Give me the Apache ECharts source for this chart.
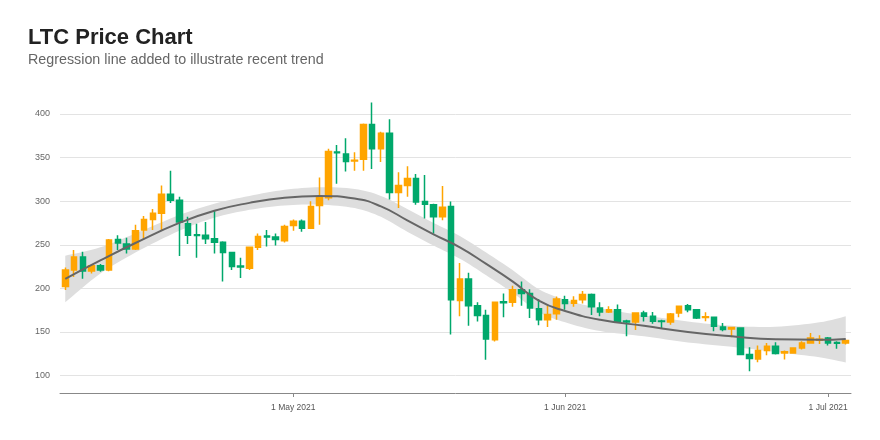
<!DOCTYPE html>
<html>
<head>
<meta charset="utf-8">
<script src="https://cdn.jsdelivr.net/npm/echarts@6/dist/echarts.min.js"></script>
<style>
  html, body { margin: 0; padding: 0; background: #fff; }
  #chart { width: 880px; height: 440px; }
</style>
</head>
<body>
<div id="chart"></div>
<script>
// daily LTC candles from 5 Apr 2021, [open, close, low, high]
var firstDay = '2021-04-05';
var candles = [
    [202, 221, 198, 224], [221, 236, 213, 244], [236, 220, 211, 242], [220, 226, 217, 227],
    [226, 221, 219, 228], [221, 255.5, 219.5, 256.5], [256, 252, 244, 261], [251, 245, 240, 258],
    [245, 266, 244, 273], [267, 279, 256, 283], [279, 286, 267, 291], [286, 308, 267, 318],
    [308, 301, 298, 335], [301, 276, 237, 305], [274, 261, 251, 282], [261.5, 260.5, 235, 274],
    [261, 257, 251, 276], [257, 253, 240, 289], [253, 241, 208, 254], [241, 225, 221, 242],
    [225.5, 224.5, 212, 235], [223, 247, 221, 248], [247, 259.5, 244, 263], [260, 259, 248, 267],
    [259, 256, 249, 263], [254.5, 271, 252.5, 273],
    // May
    [272, 277, 266, 279], [277, 269, 265, 279], [269, 294, 268, 300], [295, 305, 273, 327],
    [304, 357, 301, 360], [356.5, 355.5, 320, 364.5], [354, 345.5, 334, 372], [346, 347, 335, 356],
    [348, 388, 335, 389], [388, 360, 337, 413], [360, 378, 345, 379.5], [378, 310, 302, 394],
    [310, 318, 292, 333], [318, 326, 305, 340], [326, 299, 296, 331], [299.5, 296.5, 280, 330],
    [296, 282, 263, 297], [282, 293, 278, 317.5], [294, 187, 147, 299.6], [186, 210.6, 168, 229],
    [210.6, 180, 157, 218], [180, 169, 162, 184], [169, 142, 118, 175.5], [141, 184, 139, 185],
    [184.5, 183.5, 167, 194], [184, 198.4, 179, 203], [198.4, 194, 180, 208], [194, 177.4, 166, 199],
    [176.7, 164, 157.6, 187.7], [164, 170, 155.7, 180], [171, 187.7, 164, 190.8],
    // June
    [187, 182.5, 175.6, 191.6], [183, 186, 179, 191], [187, 193, 182.5, 197], [193, 179, 169.5, 194],
    [177.5, 173, 168, 184], [173, 175.5, 171.8, 179.4], [175.5, 161.5, 160.3, 181.5], [162.5, 161.5, 145, 164],
    [161.5, 171.7, 152.3, 172.7], [171.7, 168, 162, 174.4], [168, 162.2, 159.5, 173], [162.5, 162, 154, 164],
    [161.5, 170.6, 158.4, 171.7], [171.7, 179.4, 167, 180], [180, 175.5, 172.5, 182], [175.5, 166, 164.9, 176.3],
    [166.5, 167.5, 162.2, 172.5], [166.8, 156.5, 150.8, 167.2], [155.8, 152.7, 150.8, 160.3], [153.5, 155, 143.9, 155.8],
    [154.6, 124.1, 124, 155.4], [124.1, 119.5, 105, 132.5], [119.1, 128.7, 115.3, 134.4], [128.7, 133.6, 123.3, 137.4],
    [133.6, 125.2, 124.1, 138.2], [126, 127.2, 118.3, 128.7], [126, 131.7, 125.2, 132.5], [131.7, 137.4, 129.8, 139.3],
    [137.4, 143.2, 136.7, 148.9], [140.5, 141.5, 136.3, 146.2],
    // July
    [143.2, 137.4, 134.4, 144.3], [138, 137, 130.6, 139.3], [137.4, 140.1, 135.5, 141.2]
];

// regression (loess) line and its confidence band
var fitDates = ['2021-04-05', '2021-04-09', '2021-04-13', '2021-04-18', '2021-04-22', '2021-04-26',
    '2021-04-30', '2021-05-04', '2021-05-08', '2021-05-11', '2021-05-14', '2021-05-17', '2021-05-20',
    '2021-05-23', '2021-05-26', '2021-05-29', '2021-06-01', '2021-06-05', '2021-06-10', '2021-06-15',
    '2021-06-20', '2021-06-25', '2021-06-30', '2021-07-03'];
var fitLine = [211, 232, 252, 275, 289, 298, 304, 306, 303, 294, 278, 262, 247, 228, 208, 186, 174,
    164, 157, 150, 145, 141.5, 141, 142];
var fitLower = [184, 217, 241, 266, 281, 290, 295, 296, 292, 282, 265, 249, 234, 215, 195, 173, 161,
    151, 145, 138, 133, 127, 121, 115];
var fitUpper = [237.5, 247, 263, 284, 297, 306, 313, 316, 314, 306, 291, 275, 260, 241, 221, 199, 187,
    177, 169, 162, 157, 156, 161, 168];

var yTicks = [100, 150, 200, 250, 300, 350, 400];
var xTicks = ['2021-05-01', '2021-06-01', '2021-07-01'];
var monthNames = ['Jan', 'Feb', 'Mar', 'Apr', 'May', 'Jun', 'Jul', 'Aug', 'Sep', 'Oct', 'Nov', 'Dec'];

var DAY = 86400000;

function toTime(s) {
    var p = s.split('-');
    return Date.UTC(+p[0], +p[1] - 1, +p[2]);
}

var t0 = toTime(firstDay);
var candleData = candles.map(function(c, i) {
    return [t0 + i * DAY, c[0], c[1], c[2], c[3]];
});
var lineData = fitDates.map(function(d, i) { return [toTime(d), fitLine[i]]; });

// catmull-rom through pixel points so the band edges come out smooth
function smoothPath(pts) {
    var out = [], n = pts.length, steps = 8;
    for (var i = 0; i < n - 1; i++) {
        var p0 = pts[Math.max(i - 1, 0)], p1 = pts[i], p2 = pts[i + 1], p3 = pts[Math.min(i + 2, n - 1)];
        for (var s = 0; s < steps; s++) {
            var t = s / steps, t2 = t * t, t3 = t2 * t;
            out.push([0, 1].map(function(k) {
                return 0.5 * ((2 * p1[k]) + (-p0[k] + p2[k]) * t +
                    (2 * p0[k] - 5 * p1[k] + 4 * p2[k] - p3[k]) * t2 +
                    (-p0[k] + 3 * p1[k] - 3 * p2[k] + p3[k]) * t3);
            }));
        }
    }
    out.push(pts[n - 1]);
    return out;
}

function renderBand(params, api) {
    var up = [], lo = [];
    for (var i = 0; i < fitDates.length; i++) {
        var t = toTime(fitDates[i]);
        up.push(api.coord([t, fitUpper[i]]));
        lo.push(api.coord([t, fitLower[i]]));
    }
    var pts = smoothPath(up).concat(smoothPath(lo).reverse());
    return {
        type: 'polygon',
        shape: { points: pts },
        style: { fill: '#dedede' },
        silent: true
    };
}

var font = "'Liberation Sans', Arial, sans-serif";
var chart = echarts.init(document.getElementById('chart'));

var option = {
    animation: false,
    backgroundColor: '#ffffff',
    title: {
        text: 'LTC Price Chart',
        subtext: 'Regression line added to illustrate recent trend',
        left: 28,
        top: 27,
        padding: 0,
        itemGap: 4,
        textStyle: { fontFamily: font, fontSize: 22, fontWeight: 'bold', color: '#222' },
        subtextStyle: { fontFamily: font, fontSize: 14.3, color: '#666' }
    },
    grid: { left: 60, right: 29, top: 96.5, bottom: 47 },
    xAxis: {
        // dates kept as UTC milliseconds on a plain value axis
        type: 'value',
        min: t0 - 0.6 * DAY,
        max: t0 + (candles.length - 1) * DAY + 0.6 * DAY,
        axisLine: { lineStyle: { color: '#888', width: 1 } },
        axisTick: {
            show: true,
            length: 4,
            lineStyle: { color: '#888' },
            customValues: xTicks.map(toTime)
        },
        axisLabel: {
            customValues: xTicks.map(toTime),
            fontFamily: font,
            fontSize: 8.5,
            color: '#555',
            margin: 10,
            formatter: function(v) {
                var d = new Date(v);
                return d.getUTCDate() + ' ' + monthNames[d.getUTCMonth()] + ' ' + d.getUTCFullYear();
            }
        },
        splitLine: { show: false }
    },
    yAxis: {
        type: 'value',
        min: 80,
        max: 420,
        axisLine: { show: false },
        axisTick: { show: false, customValues: yTicks },
        axisLabel: {
            customValues: yTicks,
            fontFamily: font,
            fontSize: 9,
            color: '#666',
            margin: 10
        },
        splitLine: { lineStyle: { color: '#e3e3e3', width: 1 } }
    },
    series: [{
        name: 'band',
        type: 'custom',
        data: [[t0, fitLine[0]]],
        encode: { x: 0, y: 1 },
        renderItem: renderBand,
        silent: true,
        z: 1
    }, {
        name: 'LTC',
        type: 'candlestick',
        data: candleData,
        encode: { x: 0, y: [1, 2, 3, 4] },
        barWidth: 6,
        itemStyle: {
            color: '#ffa500',
            color0: '#00a86b',
            borderColor: '#ffa500',
            borderColor0: '#00a86b',
            borderWidth: 1.5
        },
        z: 3
    }, {
        name: 'trend',
        type: 'line',
        data: lineData,
        smooth: true,
        symbol: 'none',
        silent: true,
        lineStyle: { color: '#666', width: 2 },
        z: 4
    }]
};
chart.setOption(option);
</script>
</body>
</html>
